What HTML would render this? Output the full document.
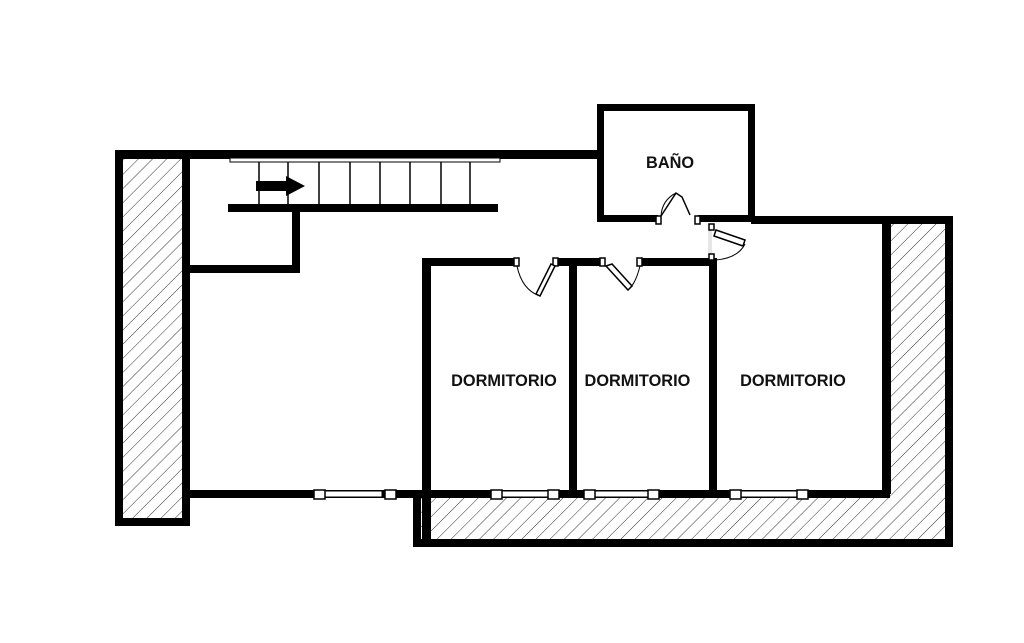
<!DOCTYPE html>
<html><head><style>body{margin:0;background:#fff}svg{display:block}</style></head><body>
<svg width="1024" height="643" viewBox="0 0 1024 643" xmlns="http://www.w3.org/2000/svg">
<defs><pattern id="h" patternUnits="userSpaceOnUse" width="10" height="10" patternTransform="rotate(45)"><line x1="0" y1="0" x2="0" y2="10" stroke="#333" stroke-width="1"/></pattern></defs>
<rect x="119" y="154" width="67" height="368" fill="url(#h)" stroke="#000" stroke-width="8"/>
<path d="M417 494 L886 494 L886 220 L949 220 L949 543 L417 543 Z" fill="url(#h)" stroke="#000" stroke-width="8"/>
<rect x="886" y="224" width="5" height="270" fill="#000"/>
<rect x="190" y="490" width="700" height="8" fill="#000"/>
<rect x="422" y="490" width="9" height="57" fill="#000"/>
<rect x="115" y="150" width="485" height="9" fill="#000"/>
<rect x="600.5" y="107.5" width="151" height="111" fill="#fff" stroke="#000" stroke-width="7"/>
<rect x="751" y="216" width="202" height="8" fill="#000"/>
<rect x="230" y="158" width="270" height="4" fill="#fff" stroke="#000" stroke-width="1"/>
<rect x="228" y="204" width="270" height="8" fill="#000"/>
<g stroke="#000" stroke-width="1.5">
<line x1="259" y1="162" x2="259" y2="204"/><line x1="288" y1="162" x2="288" y2="204"/><line x1="319" y1="162" x2="319" y2="204"/><line x1="350" y1="162" x2="350" y2="204"/><line x1="380" y1="162" x2="380" y2="204"/><line x1="410" y1="162" x2="410" y2="204"/><line x1="441" y1="162" x2="441" y2="204"/><line x1="470" y1="162" x2="470" y2="204"/></g>
<path d="M256 181 H286 V176 L305 186 L286 196 V191 H256 Z" fill="#000"/>
<rect x="292" y="210" width="8" height="63" fill="#000"/>
<rect x="190" y="265" width="110" height="8" fill="#000"/>
<rect x="422" y="258" width="295" height="8" fill="#000"/>
<rect x="422" y="258" width="9" height="240" fill="#000"/>
<rect x="569" y="266" width="8" height="226" fill="#000"/>
<rect x="709" y="258" width="8" height="234" fill="#000"/>
<rect x="709" y="224" width="2" height="34" fill="#fff" stroke="#999" stroke-width="0.5"/>
<rect x="517" y="257" width="40" height="10" fill="#fff"/>
<rect x="602" y="257" width="38" height="10" fill="#fff"/>
<rect x="658" y="215" width="40" height="10" fill="#fff"/>
<g fill="#fff" stroke="#000" stroke-width="1.5">
<rect x="514" y="258" width="5" height="8"/><rect x="553" y="258" width="5" height="8"/>
<rect x="600" y="258" width="5" height="8"/><rect x="637" y="258" width="5" height="8"/>
<rect x="656" y="216" width="5" height="8"/><rect x="695" y="216" width="5" height="8"/>
<rect x="709" y="224" width="5" height="6"/><rect x="709" y="254" width="5" height="6"/>
<path d="M555 266 L540 296 L536 294 L551 264 Z"/>
<path d="M606 266 L628 290 L632 286 L612 264 Z"/>
<path d="M661 216 L676 193 L682 197 L690 215" fill="#fff"/>
<path d="M716 230 L745 240 L743 246 L714 236 Z"/>
</g>
<g fill="none" stroke="#000" stroke-width="1"><path d="M517 266 Q522 290 540 296"/><path d="M640 266 Q636 282 630 288"/><path d="M661 216 Q662 200 676 193"/><path d="M745 244 Q738 258 716 260"/></g>
<g fill="#fff" stroke="#000" stroke-width="1.5">
<rect x="325" y="491" width="57" height="6" stroke-width="1"/><rect x="500" y="491" width="52" height="6" stroke-width="1"/><rect x="590" y="491" width="60" height="6" stroke-width="1"/><rect x="737" y="491" width="66" height="6" stroke-width="1"/>
<rect x="314" y="490" width="11" height="9"/><rect x="385" y="490" width="11" height="9"/>
<rect x="491" y="490" width="11" height="9"/><rect x="548" y="490" width="11" height="9"/>
<rect x="584" y="490" width="11" height="9"/><rect x="648" y="490" width="11" height="9"/>
<rect x="730" y="490" width="11" height="9"/><rect x="797" y="490" width="11" height="9"/>
</g>
<g font-family="Liberation Sans, sans-serif" font-size="17" font-weight="bold" fill="#111" text-anchor="middle" transform="scale(0.96,1)">
<text x="698" y="168">BAÑO</text>
<text x="525" y="386">DORMITORIO</text>
<text x="664" y="386">DORMITORIO</text>
<text x="826" y="386">DORMITORIO</text>
</g>
</svg>
</body></html>
